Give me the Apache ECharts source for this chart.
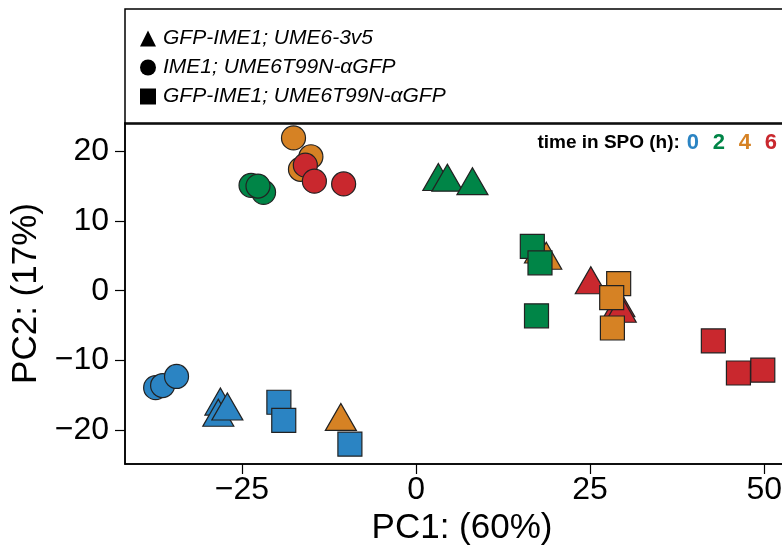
<!DOCTYPE html>
<html>
<head>
<meta charset="utf-8">
<script src="https://cdn.jsdelivr.net/npm/echarts@6/dist/echarts.min.js"></script>
<style>html,body{margin:0;padding:0;background:#fff;overflow:hidden}#c{width:782px;height:546px}</style>
</head>
<body>
<div id="c"></div>
<script>
// ---- data ----
const strainNames = ['GFP-IME1; UME6-3v5', 'IME1; UME6T99N-\u03b1GFP', 'GFP-IME1; UME6T99N-\u03b1GFP'];
const timeLevels = ['0', '2', '4', '6'];

// triangles: GFP-IME1; UME6-3v5
const triX = [-28.1, -28.4, -27.1, 3.2, 4.5, 8.1, -10.8, 17.8, 18.7, 25.1, 29.2, 29.4];
const triY = [-15.9, -17.5, -16.6, 16.3, 16.2, 15.7, -18.1, 5.9, 5.0, 1.5, -1.8, -2.6];
const triT = ['0', '0', '0', '2', '2', '2', '4', '4', '4', '6', '6', '6'];

// circles: IME1; UME6T99N-aGFP
const cirX = [-37.4, -36.4, -34.4, -23.7, -21.9, -22.7, -17.6, -15.1, -16.6, -15.9, -14.6, -10.4];
const cirY = [-13.9, -13.6, -12.3, 15.1, 14.1, 15.0, 21.9, 19.2, 17.4, 18.0, 15.7, 15.3];
const cirT = ['0', '0', '0', '2', '2', '2', '4', '4', '4', '6', '6', '6'];

// squares: GFP-IME1; UME6T99N-aGFP
const sqX = [-19.7, -19.0, -9.5, 16.7, 17.8, 17.3, 29.1, 28.1, 28.2, 42.7, 46.3, 49.8];
const sqY = [-16.0, -18.6, -22.0, 6.35, 4.0, -3.6, 1.0, -1.0, -5.35, -7.2, -11.8, -11.4];
const sqT = ['0', '0', '0', '2', '2', '2', '4', '4', '4', '6', '6', '6'];

const xTicks = [-25, 0, 25, 50];
const yTicks = [-20, -10, 0, 10, 20];

// ---- style ----
const timeColor = { '0': '#2B84C3', '2': '#008547', '4': '#D68224', '6': '#C9282E' };
const FONT = '"Liberation Sans", Arial, Helvetica, sans-serif';

function build(xs, ys, ts) {
  return xs.map((x, i) => ({
    value: [x, ys[i]],
    itemStyle: { color: timeColor[ts[i]] }
  }));
}
const fmt = v => (v < 0 ? '\u2212' + Math.abs(v) : String(v));

const chart = echarts.init(document.getElementById('c'), null, { renderer: 'canvas' });
const pointStyle = { borderColor: '#222', borderWidth: 1.2, opacity: 1 };
const digitStyle = c => ({ fontFamily: FONT, fontSize: 22, fontWeight: 'bold', fill: c, width: 26, align: 'center' });

chart.setOption({
  animation: false,
  backgroundColor: '#fff',
  grid: { left: 125, width: 674, top: 123, height: 341, show: true, borderColor: '#000', borderWidth: 1.5, outerBoundsMode: 'none' },
  xAxis: {
    type: 'value', min: -41.8, max: 55,
    name: 'PC1: (60%)', nameLocation: 'middle', nameGap: 47,
    nameTextStyle: { fontFamily: FONT, fontSize: 35, color: '#000' },
    splitLine: { show: false },
    axisLine: { show: true, onZero: false, lineStyle: { color: '#000', width: 1.5 } },
    axisTick: { show: true, length: 10, lineStyle: { color: '#000', width: 1.2 }, customValues: xTicks },
    axisLabel: { fontFamily: FONT, fontSize: 32, color: '#000', margin: 10, customValues: xTicks, formatter: fmt }
  },
  yAxis: {
    type: 'value', min: -24.85, max: 24.04,
    name: 'PC2: (17%)', nameLocation: 'middle', nameGap: 74, nameRotate: 90,
    nameTextStyle: { fontFamily: FONT, fontSize: 35, color: '#000' },
    splitLine: { show: false },
    axisLine: { show: true, onZero: false, lineStyle: { color: '#000', width: 1.5 } },
    axisTick: { show: true, length: 10, lineStyle: { color: '#000', width: 1.2 }, customValues: yTicks },
    axisLabel: { fontFamily: FONT, fontSize: 32, color: '#000', margin: 16, customValues: yTicks, formatter: fmt }
  },
  legend: {
    orient: 'vertical', left: 135, top: 23, itemGap: 8, itemWidth: 16, itemHeight: 16,
    selectedMode: false,
    data: [
      { name: strainNames[0], icon: 'triangle' },
      { name: strainNames[1], icon: 'circle' },
      { name: strainNames[2], icon: 'rect' }
    ],
    itemStyle: { color: '#000', borderWidth: 0 },
    textStyle: { fontFamily: FONT, fontSize: 21, fontStyle: 'italic', color: '#000', padding: [0, 0, 0, 2], lineHeight: 18 }
  },
  graphic: [
    { type: 'rect', z: 0, silent: true, shape: { x: 125, y: 9, width: 700, height: 115 }, style: { fill: 'none', stroke: '#000', lineWidth: 1.5 } },
    {
      type: 'text', z: 10, right: 5, top: 132, silent: true,
      style: {
        text: '{a|time in SPO (h):}{b|' + timeLevels[0] + '}{c|' + timeLevels[1] + '}{d|' + timeLevels[2] + '}{e|' + timeLevels[3] + '}',
        fontFamily: FONT,
        rich: {
          a: { fontFamily: FONT, fontSize: 19, fontWeight: 'bold', fill: '#000' },
          b: digitStyle(timeColor['0']),
          c: digitStyle(timeColor['2']),
          d: digitStyle(timeColor['4']),
          e: digitStyle(timeColor['6'])
        }
      }
    }
  ],
  series: [
    { name: strainNames[1], type: 'scatter', symbol: 'circle', symbolSize: 24, data: build(cirX, cirY, cirT), itemStyle: pointStyle, z: 3 },
    { name: strainNames[0], type: 'scatter', symbol: 'triangle', symbolSize: [31, 27], data: build(triX, triY, triT), itemStyle: pointStyle, z: 4 },
    { name: strainNames[2], type: 'scatter', symbol: 'rect', symbolSize: 24, data: build(sqX, sqY, sqT), itemStyle: pointStyle, z: 5 }
  ]
});
</script>
</body>
</html>
